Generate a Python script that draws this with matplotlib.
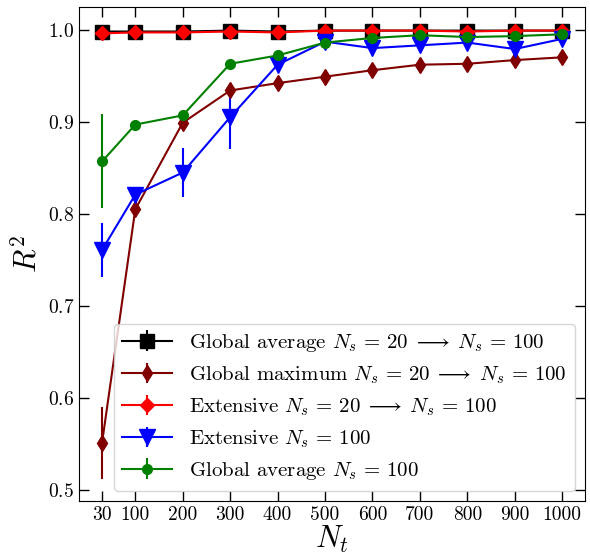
import numpy as np
import matplotlib
matplotlib.use('Agg')
import matplotlib.pyplot as plt

plt.rcParams['font.family'] = 'serif'
plt.rcParams['font.serif'] = ['cmr10']
plt.rcParams['mathtext.fontset'] = 'cm'
plt.rcParams['axes.formatter.use_mathtext'] = True

# data
n_t = [30, 100, 200, 300, 400, 500, 600, 700, 800, 900, 1000]

glob_avg_20_100 = [0.998, 0.998, 0.998, 0.999, 0.998, 0.999, 0.999, 0.999, 0.999, 0.999, 0.999]
glob_avg_20_100_err = [0.001, 0.001, 0.001, 0.001, 0.001, 0.001, 0.001, 0.001, 0.001, 0.001, 0.001]

glob_max_20_100 = [0.552, 0.805, 0.899, 0.934, 0.942, 0.949, 0.956, 0.962, 0.963, 0.967, 0.970]
glob_max_20_100_err = [0.039, 0.006, 0.005, 0.003, 0.003, 0.002, 0.002, 0.002, 0.002, 0.002, 0.002]

ext_20_100 = [0.996, 0.997, 0.997, 0.998, 0.997, 0.999, 0.999, 0.999, 0.998, 0.999, 0.999]
ext_20_100_err = [0.001, 0.001, 0.001, 0.001, 0.001, 0.001, 0.001, 0.001, 0.001, 0.001, 0.001]

ext_100 = [0.761, 0.821, 0.845, 0.905, 0.962, 0.987, 0.980, 0.983, 0.986, 0.979, 0.990]
ext_100_err = [0.029, 0.004, 0.027, 0.035, 0.004, 0.002, 0.002, 0.002, 0.002, 0.002, 0.002]

glob_avg_100 = [0.857, 0.897, 0.907, 0.963, 0.972, 0.986, 0.991, 0.994, 0.992, 0.993, 0.995]
glob_avg_100_err = [0.051, 0.002, 0.004, 0.002, 0.002, 0.001, 0.001, 0.001, 0.001, 0.001, 0.001]

arrow = r'$N_s\,=\,20\;\longrightarrow\;N_s\,=\,100$'
single = r'$N_s\,=\,100$'

fig = plt.figure(figsize=(5.9, 5.56), dpi=100)
ax = fig.add_axes([0.134, 0.099, 0.858, 0.888])

ax.errorbar(n_t, glob_avg_20_100, yerr=glob_avg_20_100_err, color='black',
            marker='s', ms=10, lw=1.5,
            label='Global average ' + arrow)
ax.errorbar(n_t, glob_max_20_100, yerr=glob_max_20_100_err, color='#800000',
            marker='d', ms=8, lw=1.5,
            label='Global maximum ' + arrow)
ax.errorbar(n_t, ext_20_100, yerr=ext_20_100_err, color='red',
            marker='D', ms=7, lw=1.5,
            label='Extensive ' + arrow)
ax.errorbar(n_t, ext_100, yerr=ext_100_err, color='blue',
            marker='v', ms=11, lw=1.5,
            label='Extensive ' + single)
ax.errorbar(n_t, glob_avg_100, yerr=glob_avg_100_err, color='green',
            marker='o', ms=7, lw=1.5,
            label='Global average ' + single)

ax.set_xticks(n_t)
ax.set_xticklabels([str(v) for v in n_t])
ax.tick_params(direction='in', top=True, right=True, length=7, width=1,
               labelsize=14)
ax.set_xlabel(r'$N_t$', fontsize=22, labelpad=0)
ax.set_ylabel(r'$R^2$', fontsize=22)

ax.legend(loc='lower right', fontsize=15, handlelength=2.4,
          labelspacing=0.5)

plt.savefig('out.png', dpi=100)
